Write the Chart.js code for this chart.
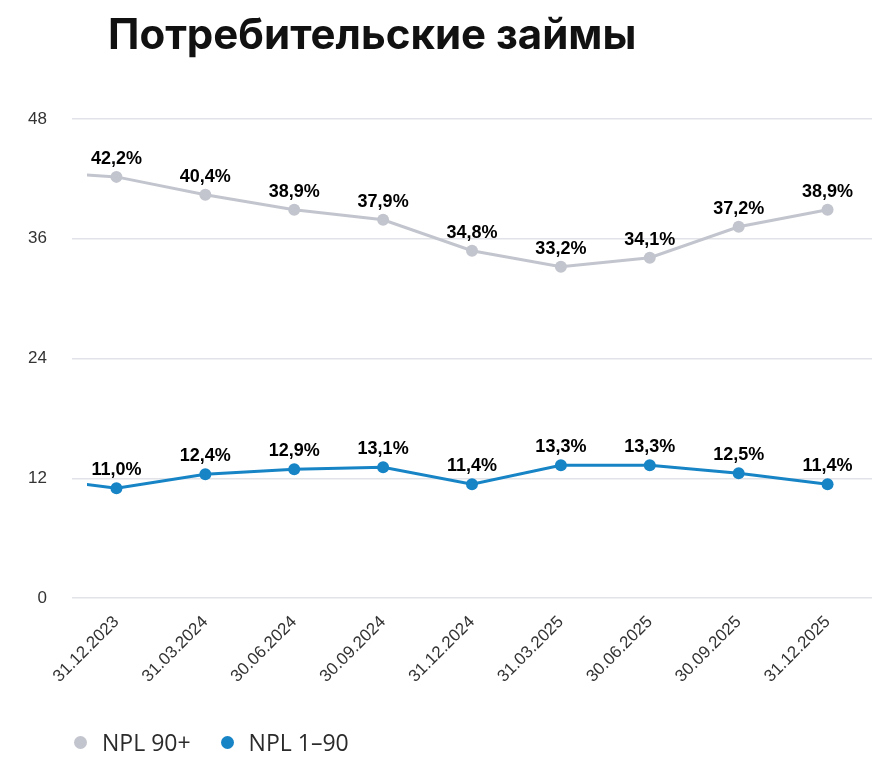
<!DOCTYPE html>
<html>
<head>
<meta charset="utf-8">
<script src="https://cdn.jsdelivr.net/npm/chart.js@4"></script>
<style>
  html, body { margin: 0; padding: 0; background: #fff; }
  #wrap { position: relative; width: 886px; height: 768px; }
  #title {
    position: absolute; left: 108px; top: 8px; margin: 0;
    font-family: Inter, sans-serif; font-weight: 700; font-size: 42px;
    color: #111; white-space: nowrap;
  }
  #legend {
    position: absolute; left: 74px; top: 726px;
    font-family: "Open Sans", sans-serif; font-size: 23px; color: #2b2b2b;
    display: flex; align-items: center;
  }
  #legend .item { display: flex; align-items: center; margin-right: 30px; }
  #legend .dot { width: 13px; height: 13px; border-radius: 50%; margin-right: 15px; }
</style>
</head>
<body>
<div id="wrap">
  <canvas id="npl-chart" width="886" height="768"></canvas>
  <h1 id="title">Потребительские займы</h1>
  <div id="legend"></div>
</div>
<script>
// quarter dates on the x axis
const dates = ['31.12.2023', '31.03.2024', '30.06.2024', '30.09.2024', '31.12.2024',
               '31.03.2025', '30.06.2025', '30.09.2025', '31.12.2025'];

// NPL shares, %
const npl90 = [42.2, 40.4, 38.9, 37.9, 34.8, 33.2, 34.1, 37.2, 38.9];
const npl190 = [11.0, 12.4, 12.9, 13.1, 11.4, 13.3, 13.3, 12.5, 11.4];

// previous quarter, only the tail of the line is visible at the left edge
const prevNpl90 = 42.8;
const prevNpl190 = 12.1;

const yTicks = [0, 12, 24, 36, 48];

const grayColor = '#c3c5ce';
const blueColor = '#1784c6';

function toPoints(prev, values) {
    const pts = [{ x: -1, y: prev }];
    values.forEach((v, i) => pts.push({ x: i, y: v }));
    return pts;
}

// Draw value labels above the points
const valueLabels = {
    id: 'valueLabels',
    afterDatasetsDraw(chart) {
        const ctx = chart.ctx;
        ctx.save();
        ctx.font = 'bold 18px "Liberation Sans", Arial, sans-serif';
        ctx.fillStyle = '#000';
        ctx.textAlign = 'center';
        ctx.textBaseline = 'middle';
        chart.data.datasets.forEach((ds, di) => {
            const meta = chart.getDatasetMeta(di);
            meta.data.forEach((pt, i) => {
                if (i === 0) return;
                const label = ds.data[i].y.toFixed(1).replace('.', ',') + '%';
                ctx.fillText(label, pt.x, pt.y - 18);
            });
        });
        ctx.restore();
    }
};

const datasets = [
    {
        label: 'NPL 90+',
        data: toPoints(prevNpl90, npl90),
        borderColor: grayColor,
        backgroundColor: grayColor,
    },
    {
        label: 'NPL 1–90',
        data: toPoints(prevNpl190, npl190),
        borderColor: blueColor,
        backgroundColor: blueColor,
    }
].map(ds => Object.assign(ds, {
    borderWidth: 3,
    pointRadius: ctx => ctx.dataIndex === 0 ? 0 : 6,
    pointHoverRadius: 6,
    pointBorderWidth: 0,
    tension: 0,
    clip: { left: -15, top: false, right: false, bottom: false }
}));

const chartConfig = {
    type: 'line',
    data: { datasets: datasets },
    options: {
        responsive: false,
        animation: false,
        layout: { padding: { left: 0, right: 14, top: 119, bottom: 70 } },
        plugins: {
            legend: { display: false },
            tooltip: { enabled: false }
        },
        scales: {
            x: {
                type: 'linear',
                min: -0.5,
                max: 8.5,
                grid: { display: false },
                border: { display: false },
                afterBuildTicks: scale => { scale.ticks = dates.map((d, i) => ({ value: i })); },
                afterFit: scale => { scale.height = 100; },
                ticks: {
                    autoSkip: false,
                    minRotation: 45,
                    maxRotation: 45,
                    padding: 6,
                    color: '#333',
                    font: { family: '"Liberation Sans", Arial, sans-serif', size: 17 },
                    callback: v => dates[v]
                }
            },
            y: {
                min: 0,
                max: 48,
                afterBuildTicks: scale => { scale.ticks = yTicks.map(v => ({ value: v })); },
                afterFit: scale => { scale.width = 72; },
                grid: { color: '#e2e3e8', lineWidth: 1.5, drawTicks: false },
                border: { display: false },
                ticks: {
                    padding: 25,
                    color: '#333',
                    font: { family: '"Liberation Sans", Arial, sans-serif', size: 17 }
                }
            }
        }
    },
    plugins: [valueLabels]
};

const ctx = document.getElementById('npl-chart').getContext('2d');
new Chart(ctx, chartConfig);

// legend below the chart
const legendEl = document.getElementById('legend');
datasets.forEach(ds => {
    const item = document.createElement('div');
    item.className = 'item';
    item.innerHTML = `<span class="dot" style="background:${ds.backgroundColor}"></span><span>${ds.label}</span>`;
    legendEl.appendChild(item);
});
</script>
</body>
</html>
